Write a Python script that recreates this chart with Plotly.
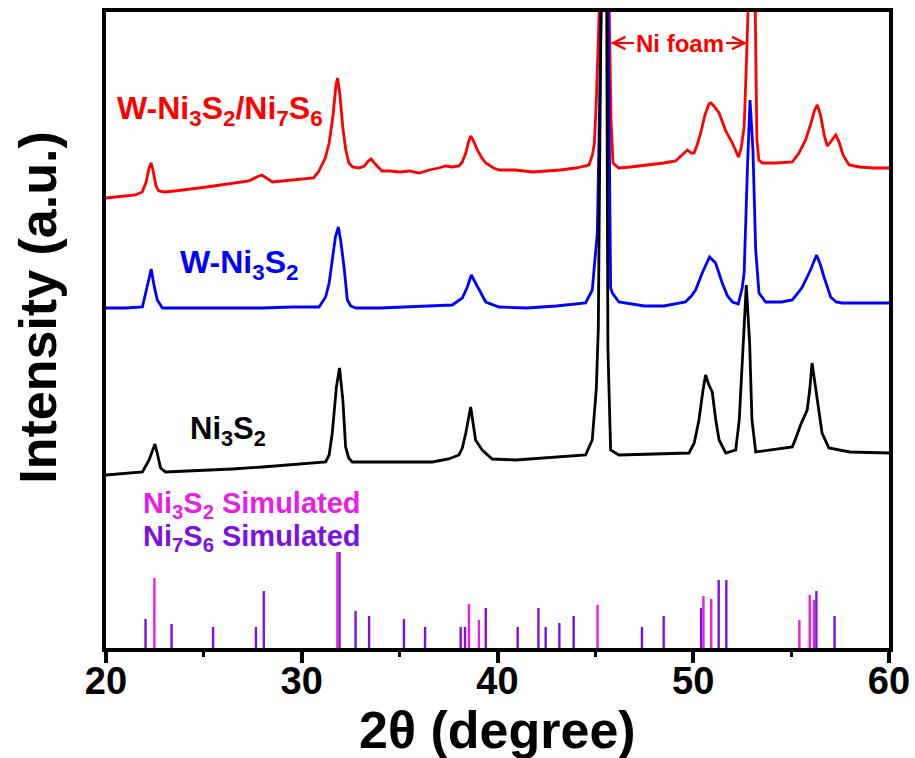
import plotly.graph_objects as go

# ---- Measured XRD patterns (2θ in degrees, intensity in a.u., stacked) ----
ni3s2_2theta = [20.0, 21.0, 21.86, 22.2, 22.5, 22.65, 22.79, 23.04, 24.5, 26.45, 28.0, 29.86,
                31.22, 31.4, 31.56, 31.77, 31.93, 32.1, 32.24, 32.4, 32.58, 34.5, 36.67, 37.5,
                38.03, 38.2, 38.38, 38.63, 38.88, 39.22, 39.73, 40.93, 42.5, 44.5, 44.84, 45.05,
                45.15, 45.3, 45.44, 45.58, 45.64, 45.78, 46.2, 48.0, 49.78, 50.05, 50.29, 50.5,
                50.63, 50.8, 50.97, 51.15, 51.32, 51.66, 52.17, 52.35, 52.42, 52.6, 52.71, 52.88,
                53.0, 53.19, 54.0, 55.06, 55.3, 55.48, 55.82, 55.95, 56.07, 56.2, 56.33, 56.58,
                56.93, 58.0, 60.0]
ni3s2_int = [173, 175, 176, 188, 204, 192, 180, 176, 177, 179, 181, 184,
             186, 193, 215, 261, 280, 248, 201, 190, 186, 186, 186, 189,
             193, 200, 215, 241, 208, 198, 189, 188, 190, 193, 208, 260,
             320, 638, 1000, 638, 300, 198, 193, 194, 195, 205, 228, 258,
             273, 263, 256, 228, 208, 195, 198, 228, 255, 321, 363, 305,
             228, 196, 198, 201, 213, 223, 238, 258, 285, 268, 248, 215,
             200, 196, 195]

w_ni3s2_2theta = [20.0, 21.0, 21.86, 22.03, 22.15, 22.31, 22.45, 22.62, 22.88, 24.0, 25.5, 26.44,
                  28.0, 29.5, 30.88, 31.22, 31.4, 31.56, 31.72, 31.87, 32.0, 32.16, 32.33, 32.5,
                  32.76, 34.0, 35.5, 37.0, 37.69, 38.2, 38.46, 38.66, 38.85, 39.05, 39.4, 40.08,
                  41.5, 43.0, 44.5, 44.84, 45.1, 45.3, 45.5, 45.65, 45.78, 45.87, 46.2, 47.5,
                  48.5, 49.6, 49.9, 50.12, 50.46, 50.83, 51.14, 51.48, 51.75, 52.0, 52.3, 52.5,
                  52.6, 52.77, 52.9, 53.05, 53.19, 53.36, 53.7, 54.5, 55.06, 55.35, 55.57, 55.99,
                  56.3, 56.5, 56.68, 57.02, 57.3, 57.61, 58.5, 60.0]
w_ni3s2_int = [340, 340, 341, 355, 368, 379, 363, 348, 340, 340, 340, 340,
               340, 341, 341, 351, 365, 388, 411, 421, 406, 381, 348, 342,
               340, 340, 341, 342, 343, 350, 361, 373, 366, 358, 346, 341,
               340, 342, 345, 358, 415, 638, 900, 638, 360, 355, 346, 342,
               342, 346, 352, 358, 375, 391, 385, 365, 352, 346, 344, 360,
               375, 481, 548, 498, 398, 355, 346, 346, 348, 355, 361, 378,
               393, 383, 371, 351, 346, 345, 345, 345]

w_hetero_2theta = [20.0, 20.5, 21.0, 21.5, 21.85, 22.05, 22.2, 22.3, 22.4, 22.55, 22.7, 23.0,
                   23.5, 24.0, 24.75, 25.5, 26.2, 26.8, 27.3, 27.7, 27.95, 28.2, 28.5, 29.0,
                   29.5, 30.2, 30.6, 30.85, 31.0, 31.2, 31.4, 31.6, 31.75, 31.83, 31.95, 32.1,
                   32.25, 32.41, 32.6, 32.92, 33.2, 33.4, 33.55, 33.75, 34.1, 34.5, 35.0, 35.5,
                   36.0, 36.5, 37.0, 37.35, 37.7, 38.03, 38.2, 38.38, 38.52, 38.63, 38.75, 38.97,
                   39.2, 39.4, 39.8, 40.1, 40.9, 41.8, 42.5, 43.2, 44.0, 44.5, 44.67, 44.85,
                   44.95, 45.05, 45.2, 45.45, 45.72, 45.8, 45.9, 46.2, 46.8, 47.74, 48.5, 49.1,
                   49.45, 49.7, 49.9, 50.04, 50.2, 50.38, 50.6, 50.8, 50.9, 51.05, 51.32, 51.5,
                   51.66, 52.0, 52.2, 52.31, 52.45, 52.6, 52.72, 52.8, 52.97, 53.17, 53.25, 53.35,
                   53.53, 54.2, 55.06, 55.4, 55.74, 56.0, 56.2, 56.34, 56.5, 56.7, 56.85, 57.05,
                   57.28, 57.45, 57.65, 57.96, 58.5, 59.2, 60.0]
w_hetero_int = [450, 451, 452, 453, 456, 466, 480, 485, 478, 462, 457, 456,
                457, 458, 460, 462, 464, 465, 467, 471, 473, 470, 466, 467,
                468, 469, 470, 476, 482, 490, 505, 533, 563, 570, 553, 520,
                498, 485, 481, 480, 482, 487, 489, 484, 477, 477, 476, 477,
                475, 478, 480, 482, 481, 482, 486, 495, 506, 512, 508, 498,
                490, 485, 480, 478, 478, 476, 477, 478, 480, 482, 483, 493,
                505, 548, 638, 948, 638, 528, 485, 480, 481, 483, 485, 487,
                493, 498, 495, 495, 503, 515, 533, 544, 545, 542, 535, 526,
                517, 505, 496, 491, 500, 521, 588, 638, 948, 638, 508, 488,
                485, 485, 486, 495, 508, 524, 538, 543, 533, 512, 502, 507,
                513, 506, 493, 483, 481, 480, 480]

# ---- Simulated reference patterns (stick positions and relative heights) ----
sim_ni3s2_pos = [22.47, 31.82, 38.54, 39.05, 45.11, 50.52, 50.92, 55.42, 55.95, 56.17]
sim_ni3s2_h = [70, 96, 44, 28, 43, 52, 49, 28, 53, 48]
sim_ni7s6_pos = [22.02, 23.35, 25.47, 27.66, 28.06, 31.93, 32.75, 33.44, 35.22, 36.3,
                 38.12, 38.34, 39.4, 41.03, 42.09, 42.46, 43.16, 43.89, 47.38, 48.49,
                 50.4, 51.3, 51.69, 56.29, 57.22]
sim_ni7s6_h = [29, 24, 21, 21, 57, 96, 37, 32, 29, 21,
               21, 21, 40, 21, 40, 21, 25, 32, 21, 32,
               40, 68, 68, 57, 32]

X_RANGE = [20, 60]
Y_RANGE = [0, 636]

FONT = "Liberation Sans, Arial, sans-serif"
RED, BLUE, BLACK = "#ff0000", "#0000ff", "#000000"
MAGENTA, PURPLE = "#e61ee6", "#7a12e6"


def sticks(pos, h):
    xs, ys = [], []
    for p, v in zip(pos, h):
        xs += [p, p, None]
        ys += [0, v, None]
    return xs, ys


fig = go.Figure()

for xs, ys, col in [(w_hetero_2theta, w_hetero_int, RED),
                    (w_ni3s2_2theta, w_ni3s2_int, BLUE),
                    (ni3s2_2theta, ni3s2_int, BLACK)]:
    fig.add_trace(go.Scatter(x=xs, y=ys, mode="lines",
                             line=dict(color=col, width=2.8), showlegend=False))

for pos, h, col in [(sim_ni7s6_pos, sim_ni7s6_h, PURPLE),
                    (sim_ni3s2_pos, sim_ni3s2_h, MAGENTA)]:
    sx, sy = sticks(pos, h)
    fig.add_trace(go.Scatter(x=sx, y=sy, mode="lines",
                             line=dict(color=col, width=2.4), showlegend=False))

labels = [
    ("W-Ni<sub>3</sub>S<sub>2</sub>/Ni<sub>7</sub>S<sub>6</sub>", 20.46, 538, RED, 32),
    ("W-Ni<sub>3</sub>S<sub>2</sub>", 23.68, 384, BLUE, 32),
    ("Ni<sub>3</sub>S<sub>2</sub>", 24.19, 217, BLACK, 31),
    ("Ni<sub>3</sub>S<sub>2</sub> Simulated", 21.79, 143, MAGENTA, 29),
    ("Ni<sub>7</sub>S<sub>6</sub> Simulated", 21.79, 110, PURPLE, 29),
]
for txt, x, y, col, size in labels:
    fig.add_annotation(x=x, y=y, xref="x", yref="y", text=txt, showarrow=False,
                       xanchor="left", yanchor="middle",
                       font=dict(family=FONT, size=size, color=col, weight="bold"))

# Ni foam marker between the two substrate reflections
foam_y = 605
fig.add_annotation(x=49.32, y=foam_y, xref="x", yref="y", text="Ni foam", showarrow=False,
                   xanchor="center", yanchor="middle",
                   font=dict(family=FONT, size=24, color=RED, weight="bold"))
for tip, tail in [(45.77, 47.05), (52.75, 51.6)]:
    fig.add_annotation(x=tip, y=foam_y, ax=tail, ay=foam_y, xref="x", yref="y",
                       axref="x", ayref="y", text="", showarrow=True,
                       arrowhead=5, arrowsize=1.1, arrowwidth=2.2, arrowcolor=RED,
                       standoff=0, startstandoff=0)

# Axis titles
fig.add_annotation(x=0, y=0.535, xref="paper", yref="paper", xshift=-68,
                   text="Intensity (a.u.)", textangle=-90, showarrow=False,
                   xanchor="center", yanchor="middle",
                   font=dict(family=FONT, size=52, color=BLACK, weight="bold"))
fig.add_annotation(x=0.5, y=0, xref="paper", yref="paper", yshift=-82,
                   text="2θ (degree)", showarrow=False,
                   xanchor="center", yanchor="middle",
                   font=dict(family=FONT, size=52, color=BLACK, weight="bold"))

fig.update_xaxes(range=X_RANGE, dtick=10, tick0=20, ticks="outside", ticklen=11,
                 tickwidth=4, tickcolor=BLACK, showline=True, linewidth=4,
                 linecolor=BLACK, mirror=True, showgrid=False, zeroline=False,
                 automargin=False, ticklabelstandoff=-15,
                 tickfont=dict(family=FONT, size=38, color=BLACK, weight="bold"),
                 minor=dict(dtick=5, tick0=20, ticks="outside", ticklen=5,
                            tickwidth=3, tickcolor=BLACK))
fig.update_yaxes(range=Y_RANGE, showticklabels=False, ticks="", showline=True,
                 linewidth=4, linecolor=BLACK, mirror=True, showgrid=False,
                 zeroline=False, automargin=False)

fig.update_layout(width=915, height=758,
                  margin=dict(l=106, r=26, t=12, b=110),
                  paper_bgcolor="white", plot_bgcolor="white",
                  showlegend=False)

fig.write_html("out.html")
